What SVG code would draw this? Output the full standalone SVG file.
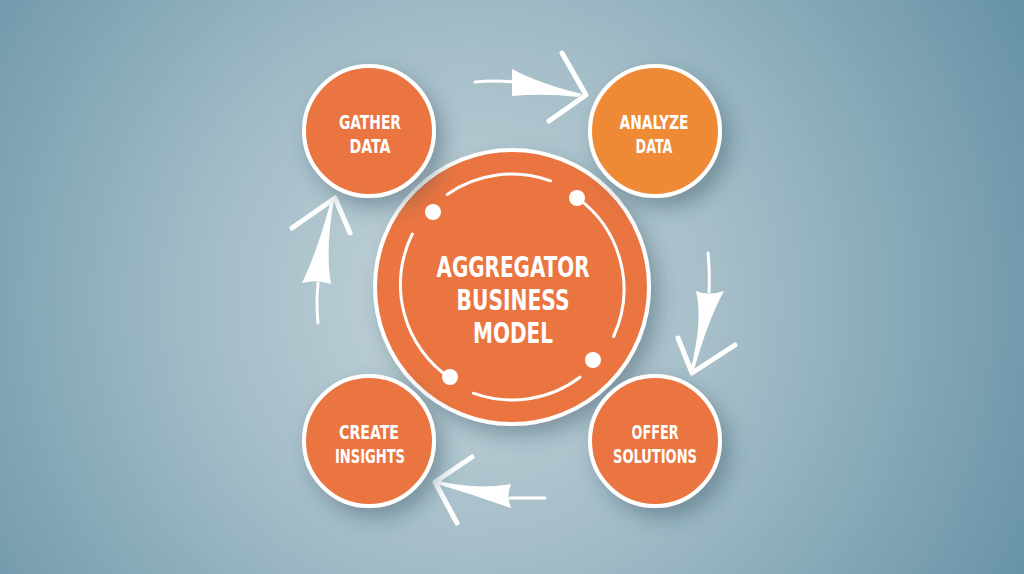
<svg xmlns="http://www.w3.org/2000/svg" width="1024" height="574" viewBox="0 0 1024 574">
  <defs>
    <radialGradient id="bg" cx="470" cy="300" r="620" gradientUnits="userSpaceOnUse">
      <stop offset="0" stop-color="#c6d5db"/>
      <stop offset="0.45" stop-color="#a1bbc6"/>
      <stop offset="1" stop-color="#6893a7"/>
    </radialGradient>
    <filter id="sh" x="-40%" y="-40%" width="180%" height="180%">
      <feDropShadow dx="8" dy="10" stdDeviation="10" flood-color="#2c4656" flood-opacity="0.38"/>
    </filter>
    <style>
      .node { stroke: #ffffff; stroke-width: 4; filter: url(#sh); }
      .or { fill: #ea743f; }
      .or2 { fill: #ee8a34; }
      .lbl { font-family: "Liberation Sans Narrow", "DejaVu Sans Condensed", "Liberation Sans", sans-serif; font-weight: bold; fill: #ffffff; text-anchor: middle; font-size: 20px; }
      .big { font-size: 29px; }
      .ring { fill: none; stroke: #ffffff; stroke-width: 3; stroke-linecap: round; }
      .dot { fill: #ffffff; }
      .arr { fill: none; stroke: #ffffff; stroke-width: 5; stroke-linecap: round; stroke-linejoin: round; }
      .shaft { fill: none; stroke: #ffffff; stroke-width: 3; stroke-linecap: round; }
      .fl { fill: #ffffff; }
    </style>
  </defs>
  <rect width="1024" height="574" fill="url(#bg)"/>

  <g id="connectors">
    <!-- top: gather -> analyze -->
    <path class="shaft" d="M475,82 Q495,80 514,82"/>
    <path class="fl" d="M512,69 Q540,84 582,94 L578,97 Q545,93 512,96 Z"/>
    <path class="arr" d="M562,53 L586,95 L549,121"/>
    <!-- right: analyze -> offer -->
    <path class="shaft" d="M708,253 Q710,272 709,292"/>
    <path class="fl" d="M696,291 Q708,296 724,291 Q708,320 694,370 L691,368 Q703,320 696,291 Z"/>
    <path class="arr" d="M678,338 L692,373 L735,345"/>
    <!-- bottom: offer -> create -->
    <path class="shaft" d="M545,498 L510,498"/>
    <path class="fl" d="M511,484 Q506,496 511,508 Q475,495 437,484 L439,481 Q475,490 511,484 Z"/>
    <path class="arr" d="M472,457 L435,482 L457,523"/>
    <!-- left: create -> gather -->
    <path class="shaft" d="M318,323 Q316,303 318,283"/>
    <path class="fl" d="M302,283 Q316,279 331,284 Q325,250 334,200 L331,200 Q318,250 302,283 Z"/>
    <path class="arr" d="M292,228 L335,198 L350,233"/>
  </g>

  <g id="node-center">
    <circle class="node or" cx="512" cy="287" r="137" stroke-width="5"/>
    <path class="ring" d="M447.2,194.4 A113,113 0 0 1 550.6,180.8"/>
    <path class="ring" d="M578.4,198.6 A113,113 0 0 1 613.6,336.5"/>
    <path class="ring" d="M580.0,377.2 A113,113 0 0 1 473.4,393.2"/>
    <path class="ring" d="M450.0,378.0 A113,113 0 0 1 412.3,234.0"/>
    <circle class="dot" cx="433" cy="212" r="8"/>
    <circle class="dot" cx="577" cy="198" r="8"/>
    <circle class="dot" cx="593" cy="360" r="8"/>
    <circle class="dot" cx="450" cy="377" r="8"/>
    <text class="lbl big" x="513" y="277" textLength="153" lengthAdjust="spacingAndGlyphs">AGGREGATOR</text>
    <text class="lbl big" x="513" y="310" textLength="113" lengthAdjust="spacingAndGlyphs">BUSINESS</text>
    <text class="lbl big" x="513" y="343" textLength="80" lengthAdjust="spacingAndGlyphs">MODEL</text>
  </g>

  <g id="node-gather">
    <circle class="node or" cx="369" cy="131" r="65"/>
    <text class="lbl" x="370" y="129" textLength="62" lengthAdjust="spacingAndGlyphs">GATHER</text>
    <text class="lbl" x="370" y="153" textLength="41" lengthAdjust="spacingAndGlyphs">DATA</text>
  </g>

  <g id="node-analyze">
    <circle class="node or2" cx="655" cy="131" r="65"/>
    <text class="lbl" x="654" y="129" textLength="69" lengthAdjust="spacingAndGlyphs">ANALYZE</text>
    <text class="lbl" x="654" y="153" textLength="37" lengthAdjust="spacingAndGlyphs">DATA</text>
  </g>

  <g id="node-create">
    <circle class="node or" cx="369" cy="441" r="65"/>
    <text class="lbl" x="369" y="439" textLength="60" lengthAdjust="spacingAndGlyphs">CREATE</text>
    <text class="lbl" x="370" y="463" textLength="70" lengthAdjust="spacingAndGlyphs">INSIGHTS</text>
  </g>

  <g id="node-offer">
    <circle class="node or" cx="655" cy="441" r="65"/>
    <text class="lbl" x="655" y="439" textLength="47" lengthAdjust="spacingAndGlyphs">OFFER</text>
    <text class="lbl" x="655" y="463" textLength="84" lengthAdjust="spacingAndGlyphs">SOLUTIONS</text>
  </g>
</svg>
